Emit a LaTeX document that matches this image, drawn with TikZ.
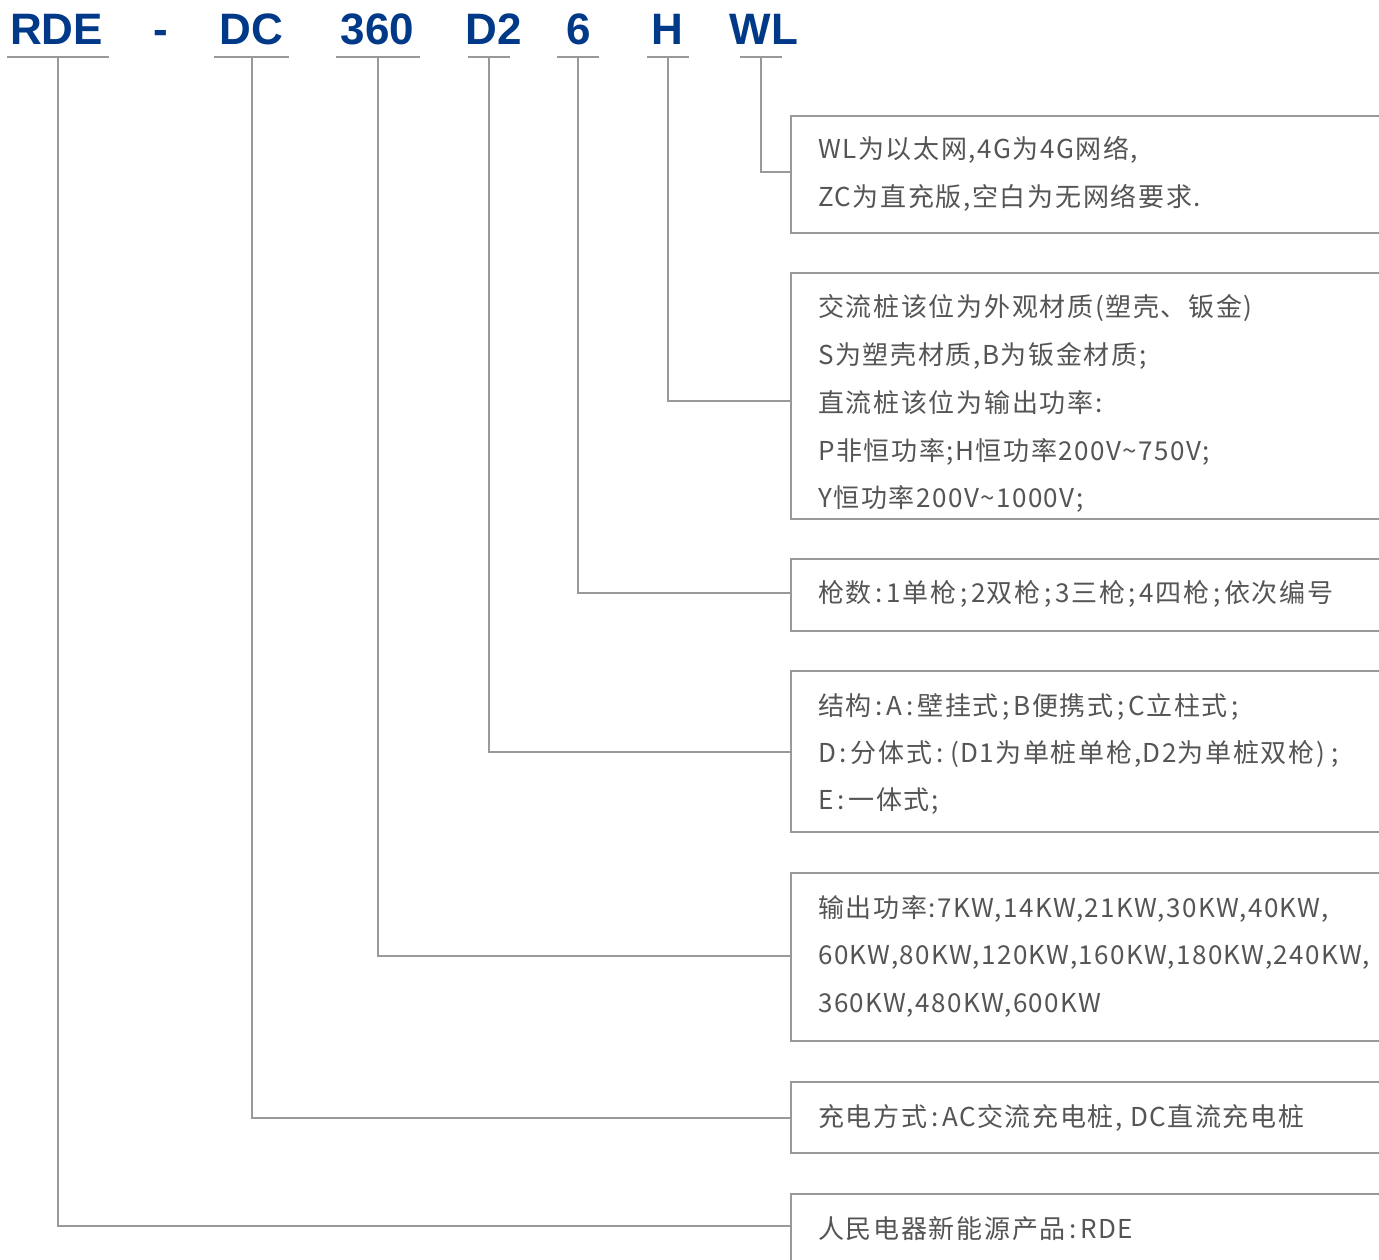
\documentclass[tikz,border=0pt]{standalone}
\usepackage{fontspec}
\usetikzlibrary{calc}
\newfontfamily\cjkfont[LetterSpace=5.5]{Noto Sans CJK SC}
\newfontfamily\hdrfont{Liberation Sans}
\definecolor{hblue}{RGB}{0,57,135}
\definecolor{lgray}{RGB}{153,153,153}
\definecolor{tgray}{RGB}{85,85,85}
\newcommand{\tld}{{\char"7E}}
\newcommand{\pc}[1]{\kern3.8pt#1\kern3.8pt}
% extra advance after each CJK character
\newXeTeXintercharclass\mycjkclass
\count255="4E00
\loop
  \XeTeXcharclass\count255=\mycjkclass
  \ifnum\count255<"9FFF \advance\count255 by 1
\repeat
\XeTeXcharclass"3001=\mycjkclass
\XeTeXinterchartoks\mycjkclass\mycjkclass={\kern1.7pt}
\XeTeXinterchartoks\mycjkclass 0={\kern1.7pt}
\XeTeXinterchartokenstate=1
\begin{document}
\begin{tikzpicture}[x=1pt,y=-1pt,
  head/.style={font=\hdrfont\bfseries\fontsize{44}{44}\selectfont, text=hblue, anchor=base, inner sep=0pt},
  rulebar/.style={draw=lgray, line width=2pt},
  conn/.style={draw=lgray, line width=2pt},
  box/.style={draw=lgray, line width=2pt, anchor=north west, inner sep=0pt, minimum width=640pt},
  txt/.style={font=\cjkfont\fontsize{26}{26}\selectfont, text=tgray, anchor=base west, inner sep=0pt}]
\useasboundingbox (0,0) rectangle (1379,1260);
\fill[white] (0,0) rectangle (1379,1260);
\clip (0,0) rectangle (1379,1260);

% header
\node[head] (hRDE) at (56.5,45) {RDE};
\node[head] (hdash) at (160.5,45) {-};
\node[head] (hDC) at (251.5,45) {DC};
\node[head] (h360) at (377.5,45) {360};
\node[head] (hD2) at (493.5,45) {D2};
\node[head] (h6) at (578.5,45) {6};
\node[head] (hH) at (667,45) {H};
\node[head] (hWL) at (764,45) {WL};

% underline anchors
\coordinate (uRDE) at (58,57);
\coordinate (uDC) at (251.5,57);
\coordinate (u360) at (378,57);
\coordinate (uD2) at (489,57);
\coordinate (u6) at (578,57);
\coordinate (uH) at (668,57);
\coordinate (uWL) at (761,57);
\draw[rulebar] ([xshift=-51pt]uRDE) -- ([xshift=51pt]uRDE);
\draw[rulebar] ([xshift=-37.5pt]uDC) -- ([xshift=37.5pt]uDC);
\draw[rulebar] ([xshift=-42pt]u360) -- ([xshift=42pt]u360);
\draw[rulebar] ([xshift=-21pt]uD2) -- ([xshift=21pt]uD2);
\draw[rulebar] ([xshift=-21pt]u6) -- ([xshift=21pt]u6);
\draw[rulebar] ([xshift=-21pt]uH) -- ([xshift=21pt]uH);
\draw[rulebar] ([xshift=-21pt]uWL) -- ([xshift=21pt]uWL);

% boxes
\node[box, minimum height=117pt] (bWL) at (790,115) {};
\node[box, minimum height=246pt] (bH) at (790,272) {};
\node[box, minimum height=72pt] (b6) at (790,558) {};
\node[box, minimum height=161pt] (bD2) at (790,670) {};
\node[box, minimum height=168pt] (b360) at (790,872) {};
\node[box, minimum height=71pt] (bDC) at (790,1081) {};
\node[box, minimum height=100pt] (bRDE) at (790,1193) {};

% connectors
\draw[conn] (uWL) |- ($(bWL.north west)+(0,57)$);
\draw[conn] (uH) |- ($(bH.north west)+(0,129)$);
\draw[conn] (u6) |- ($(b6.north west)+(0,35)$);
\draw[conn] (uD2) |- ($(bD2.north west)+(0,82)$);
\draw[conn] (u360) |- ($(b360.north west)+(0,84)$);
\draw[conn] (uDC) |- ($(bDC.north west)+(0,37)$);
\draw[conn] (uRDE) |- ($(bRDE.north west)+(0,33)$);

% texts
\node[txt] (tWL1) at (818,159) {WL为以太网,4G为4G网络,};
\node[txt] (tWL2) at (818,207) {ZC为直充版,空白为无网络要求.};

\node[txt] (tH1) at (818,316) {交流桩该位为外观材质(塑壳、钣金)};
\node[txt] (tH2) at (818,364) {S为塑壳材质,B为钣金材质;};
\node[txt] (tH3) at (818,412) {直流桩该位为输出功率:};
\node[txt] (tH4) at (818,460) {P非恒功率;H恒功率200V\tld750V;};
\node[txt] (tH5) at (818,507) {Y恒功率200V\tld1000V;};

\node[txt] (t61) at (818,602) {枪数\pc{:}1单枪\pc{;}2双枪\pc{;}3三枪\pc{;}4四枪\pc{;}依次编号};

\node[txt] (tD1) at (818,715) {结构\pc{:}A\pc{:}壁挂式\pc{;}B便携式\pc{;}C立柱式\pc{;}};
\node[txt] (tD2) at (818,762) {D\pc{:}分体式\pc{:}\hspace{3pt}(D1为单桩单枪,D2为单桩双枪)\hspace{6pt};};
\node[txt] (tD3) at (818,809) {E\pc{:}一体式;};

\node[txt] (tP1) at (818,917) {输出功率:7KW,14KW,21KW,30KW,40KW,};
\node[txt] (tP2) at (818,964) {60KW,80KW,120KW,160KW,180KW,240KW,};
\node[txt] (tP3) at (818,1012) {360KW,480KW,600KW};

\node[txt] (tDC1) at (818,1126) {充电方式\pc{:}AC交流充电桩, DC直流充电桩};
\node[txt] (tR1) at (818,1238) {人民电器新能源产品\pc{:}RDE};
\end{tikzpicture}
\end{document}
